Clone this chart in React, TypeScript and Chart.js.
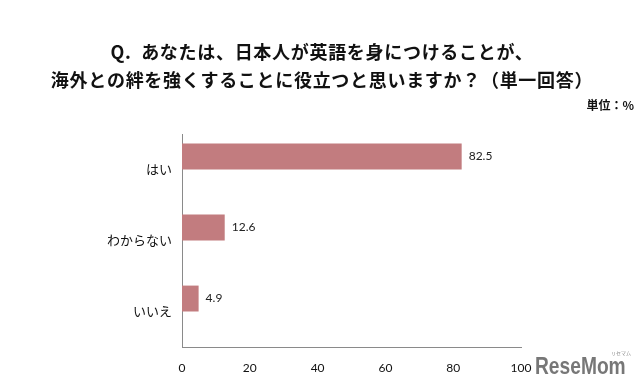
import React, { useEffect, useRef } from "react";
import { Chart, registerables } from "chart.js";

Chart.register(...registerables);

const categories = ["はい", "わからない", "いいえ"];
const values = [82.5, 12.6, 4.9];
const xTicks = [0, 20, 40, 60, 80, 100];
const titleLines = [
  "Q.  あなたは、日本人が英語を身につけることが、",
  "海外との絆を強くすることに役立つと思いますか？（単一回答）",
];
const unitLabel = "単位：%";
const logoText = "ReseMom";

const JP = '"Noto Sans CJK JP", sans-serif';
const NUM = 'Lato, "Liberation Sans", sans-serif';

export default function App() {
  const ref = useRef<HTMLCanvasElement | null>(null);

  useEffect(() => {
    document.body.style.margin = "0";
    const canvas = ref.current;
    if (!canvas) return;

    const overlay = {
      id: "overlay",
      afterDraw(chart: any) {
        const ctx = chart.ctx;
        ctx.save();
        ctx.fillStyle = "#111";
        ctx.textAlign = "center";
        ctx.textBaseline = "middle";
        ctx.font = `bold 18px ${JP}`;
        (ctx as any).letterSpacing = "0.7px";
        ctx.fillText(titleLines[0], 322, 52);
        ctx.fillText(titleLines[1], 322, 80);
        (ctx as any).letterSpacing = "0px";
        ctx.font = `bold 12px ${JP}`;
        ctx.textAlign = "right";
        ctx.fillText(unitLabel, 634, 105);

        // value labels
        const meta = chart.getDatasetMeta(0);
        ctx.font = `12px ${NUM}`;
        ctx.textAlign = "left";
        ctx.fillStyle = "#222";
        meta.data.forEach((bar: any, i: number) => {
          ctx.fillText(String(values[i].toFixed(1)), bar.x + 7, bar.y);
        });

        // logo
        ctx.save();
        ctx.translate(535, 367);
        ctx.scale(0.8, 1);
        ctx.font = `bold 24px "Liberation Sans", sans-serif`;
        ctx.fillStyle = "#777777";
        ctx.textAlign = "left";
        ctx.fillText(logoText, 0, 0);
        ctx.restore();
        ctx.font = `5px ${JP}`;
        ctx.fillStyle = "#888";
        ctx.fillText("リセマム", 611, 353);
        ctx.restore();
      },
    };

    const chart = new Chart(canvas, {
      type: "bar",
      data: {
        labels: categories,
        datasets: [
          {
            data: values,
            backgroundColor: "#C27C7F",
            borderWidth: 0,
            categoryPercentage: 0.73,
            barPercentage: 1,
          },
          {
            data: values.map(() => null),
            backgroundColor: "rgba(0,0,0,0)",
            categoryPercentage: 0.73,
            barPercentage: 1,
          },
        ],
      },
      options: {
        indexAxis: "y",
        responsive: false,
        animation: false,
        layout: { padding: { left: 0, top: 134, right: 123, bottom: 0 } },
        plugins: {
          legend: { display: false },
          tooltip: { enabled: false },
          title: { display: false },
        },
        scales: {
          x: {
            min: 0,
            max: 100,
            afterBuildTicks: (scale: any) => {
              scale.ticks = xTicks.map((v) => ({ value: v }));
            },
            afterFit: (scale: any) => {
              scale.height = 42;
            },
            grid: { display: false, drawTicks: false },
            border: { display: true, color: "#8a8a8a", width: 1 },
            ticks: {
              padding: 14,
              color: "#111",
              font: { size: 12, family: NUM },
              maxRotation: 0,
            },
          },
          y: {
            afterFit: (scale: any) => {
              scale.width = 182;
            },
            grid: { display: false, drawTicks: false },
            border: { display: true, color: "#8a8a8a", width: 1 },
            ticks: {
              padding: 10,
              color: "#111",
              font: { size: 13, family: JP },
            },
          },
        },
      },
      plugins: [overlay],
    } as any);

    return () => chart.destroy();
  }, []);

  return <canvas ref={ref} width={644} height={389} style={{ display: "block" }} />;
}
